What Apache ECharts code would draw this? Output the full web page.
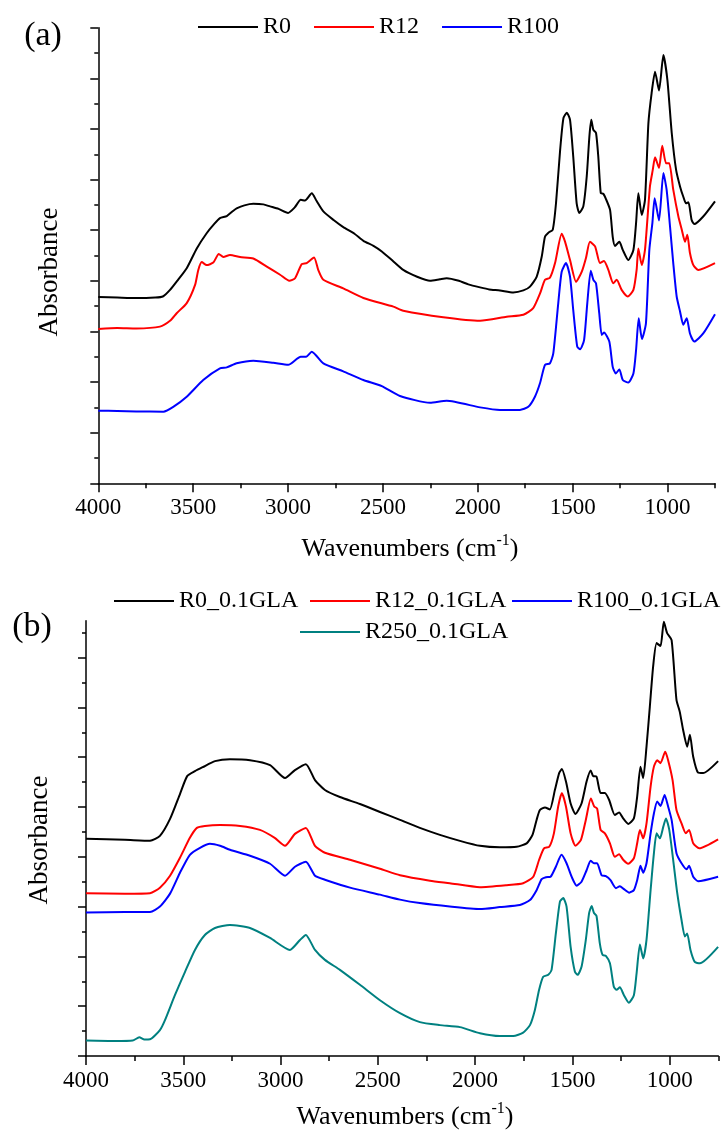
<!DOCTYPE html>
<html>
<head>
<meta charset="utf-8">
<script src="https://cdn.jsdelivr.net/npm/echarts@6/dist/echarts.min.js"></script>
<style>
html,body{margin:0;padding:0;background:#fff}
#chart{width:723px;height:1136px}
</style>
</head>
<body>
<div id="chart"></div>
<script>
// ---------- Panel (a): FTIR spectra, absorbance in arbitrary units (offset) ----------
const r0Wn = [4000,3900,3800,3700,3660,3622,3580,3534,3481,3429,3390,3359,3323,3290,3271,3230,3183,3130,3095,3050,3000,2965,2933,2911,2875,2850,2814,2760,2709,2650,2603,2550,2506,2450,2393,2320,2252,2200,2164,2100,2050,1988,1940,1883,1813,1760,1725,1690,1663,1646,1628,1605,1588,1566,1549,1531,1514,1497,1479,1465,1444,1426,1412,1402,1391,1377,1365,1352,1339,1324,1303,1289,1277,1254,1236,1207,1180,1166,1154,1136,1119,1101,1084,1066,1045,1022,1001,978,955,934,917,903,890,873,859,812,750];
const r0Abs = [3.68,3.67,3.66,3.67,3.69,3.82,4.02,4.25,4.64,4.94,5.12,5.24,5.28,5.38,5.43,5.49,5.52,5.51,5.47,5.42,5.34,5.45,5.60,5.585,5.73,5.58,5.37,5.20,5.06,4.93,4.79,4.69,4.58,4.40,4.215,4.08,4.00,4.03,4.05,4.00,3.93,3.87,3.83,3.81,3.77,3.81,3.885,4.08,4.48,4.87,4.95,5.01,5.53,6.59,7.21,7.32,7.18,6.45,5.53,5.34,5.47,6.06,6.85,7.18,6.98,6.92,6.45,5.73,5.72,5.61,5.40,4.87,4.69,4.77,4.61,4.41,4.61,5.14,5.73,5.30,5.60,7.11,7.71,8.13,7.76,8.46,7.97,6.92,6.19,5.86,5.66,5.53,5.55,5.20,5.12,5.27,5.57];

const r12Wn = [4000,3900,3800,3675,3622,3587,3534,3490,3473,3455,3429,3394,3365,3341,3306,3253,3183,3112,3042,2993,2963,2928,2902,2863,2841,2814,2709,2603,2445,2393,2182,1988,1848,1760,1708,1672,1646,1620,1593,1558,1540,1514,1482,1452,1430,1409,1382,1356,1335,1312,1286,1268,1242,1210,1180,1163,1154,1136,1119,1093,1078,1066,1045,1028,1008,991,970,943,925,908,896,882,864,838,750];
const r12Abs = [3.05,3.07,3.06,3.095,3.21,3.36,3.56,3.92,4.215,4.37,4.31,4.36,4.53,4.47,4.51,4.47,4.44,4.28,4.12,4.00,4.05,4.33,4.35,4.46,4.215,4.02,3.85,3.66,3.49,3.41,3.28,3.21,3.29,3.33,3.46,3.75,4.02,4.06,4.35,4.93,4.77,4.41,3.98,4.18,4.45,4.77,4.68,4.35,4.39,4.215,3.95,4.02,3.82,3.69,3.82,4.215,4.64,4.31,4.61,5.86,6.19,6.44,6.23,6.67,6.32,6.32,5.80,5.27,5.01,4.77,4.91,4.55,4.31,4.215,4.35];

const r100Wn = [4000,3900,3800,3657,3605,3534,3447,3359,3323,3271,3183,3078,2999,2933,2905,2875,2814,2709,2603,2506,2410,2252,2164,1988,1883,1778,1734,1699,1672,1646,1620,1602,1576,1558,1535,1514,1497,1476,1461,1440,1423,1405,1391,1377,1360,1347,1335,1307,1289,1273,1254,1236,1207,1180,1166,1152,1135,1114,1096,1080,1068,1045,1022,1005,987,970,952,934,917,899,882,859,812,750];
const r100Abs = [1.435,1.43,1.42,1.415,1.51,1.71,2.04,2.27,2.29,2.37,2.42,2.38,2.34,2.50,2.50,2.60,2.37,2.21,2.04,1.92,1.725,1.59,1.63,1.50,1.45,1.45,1.51,1.71,1.98,2.34,2.37,2.57,3.56,4.18,4.35,4.08,3.42,2.70,2.65,2.83,3.56,4.20,4.02,3.95,3.36,2.93,2.98,2.80,2.30,2.17,2.25,2.04,1.99,2.17,2.63,3.26,2.85,3.16,4.61,5.14,5.63,5.19,6.13,5.80,5.07,4.35,3.69,3.39,3.13,3.26,2.96,2.80,2.96,3.34];

// ---------- Panel (b): spectra with 0.1GLA ----------
const g0Wn = [4000,3800,3671,3620,3568,3517,3480,3440,3400,3337,3260,3157,3054,2977,2926,2870,2823,2772,2695,2592,2489,2386,2284,2181,2078,1975,1873,1787,1735,1705,1684,1667,1641,1616,1590,1568,1554,1533,1509,1484,1453,1427,1406,1393,1376,1355,1333,1311,1282,1260,1239,1213,1184,1167,1150,1136,1119,1102,1085,1067,1047,1030,1013,990,965,948,931,910,896,879,854,828,751];
const g0Abs = [4.36,4.34,4.32,4.42,4.76,5.26,5.62,5.72,5.80,5.92,5.96,5.94,5.84,5.58,5.74,5.86,5.54,5.34,5.20,5.06,4.90,4.74,4.58,4.44,4.32,4.22,4.19,4.20,4.27,4.44,4.74,4.94,4.99,4.95,5.34,5.68,5.76,5.51,5.07,4.86,5.07,5.51,5.73,5.62,5.61,5.28,5.28,5.14,4.84,4.89,4.77,4.66,4.77,5.21,5.81,5.58,6.21,7.01,7.82,8.29,8.23,8.72,8.49,8.35,7.15,6.91,6.55,6.21,6.45,6.01,5.69,5.68,5.92];

const g12Wn = [4000,3800,3671,3620,3568,3517,3466,3430,3389,3311,3208,3106,3030,2977,2926,2870,2823,2772,2643,2489,2386,2232,2130,1975,1838,1753,1701,1671,1646,1619,1595,1573,1554,1533,1509,1484,1456,1431,1405,1388,1373,1355,1333,1307,1282,1260,1239,1213,1184,1167,1153,1136,1119,1098,1081,1064,1047,1023,1008,985,965,939,917,900,879,848,751];
const g12Abs = [3.27,3.26,3.27,3.38,3.62,3.98,4.38,4.58,4.62,4.64,4.62,4.54,4.38,4.22,4.46,4.58,4.22,4.08,3.94,3.76,3.63,3.52,3.47,3.39,3.43,3.47,3.60,3.94,4.17,4.20,4.47,5.01,5.28,5.01,4.47,4.22,4.34,4.74,5.17,5.01,4.97,4.54,4.47,4.27,4.00,4.05,3.94,3.86,3.97,4.27,4.54,4.37,4.67,5.41,5.81,5.94,5.88,6.11,5.94,5.54,4.94,4.67,4.47,4.54,4.27,4.17,4.35];

const g100Wn = [4000,3800,3671,3620,3568,3517,3466,3414,3363,3311,3260,3157,3054,2977,2926,2870,2823,2772,2643,2489,2386,2284,2130,1975,1873,1770,1718,1684,1658,1636,1612,1585,1556,1530,1504,1478,1453,1427,1406,1389,1373,1350,1328,1304,1276,1256,1235,1208,1184,1167,1150,1136,1119,1098,1081,1064,1047,1026,1008,990,965,939,913,900,879,854,751];
const g100Abs = [2.88,2.89,2.89,3.00,3.26,3.68,4.04,4.18,4.26,4.22,4.14,4.02,3.86,3.62,3.80,3.90,3.62,3.54,3.38,3.24,3.14,3.07,3.00,2.95,2.99,3.03,3.13,3.33,3.55,3.59,3.60,3.80,4.04,3.87,3.60,3.42,3.50,3.73,3.92,3.87,3.87,3.63,3.61,3.53,3.37,3.41,3.35,3.28,3.33,3.53,3.82,3.68,3.87,4.47,4.87,5.11,5.02,5.24,5.01,4.74,4.07,3.87,3.75,3.82,3.60,3.51,3.60];

const g250Wn = [4000,3850,3760,3726,3700,3671,3620,3594,3543,3491,3440,3389,3337,3260,3157,3054,2952,2900,2870,2823,2772,2695,2592,2489,2386,2284,2181,2078,1975,1873,1804,1753,1718,1693,1671,1650,1624,1607,1585,1564,1547,1530,1509,1487,1473,1453,1431,1414,1401,1389,1376,1359,1345,1328,1307,1287,1273,1256,1235,1210,1184,1170,1153,1136,1119,1098,1081,1067,1050,1033,1019,1002,982,961,939,922,910,893,871,845,751];
const g250Abs = [0.31,0.30,0.31,0.375,0.33,0.335,0.52,0.72,1.22,1.69,2.13,2.43,2.57,2.63,2.57,2.37,2.13,2.33,2.43,2.13,1.93,1.73,1.43,1.12,0.86,0.68,0.62,0.58,0.456,0.40,0.40,0.47,0.62,0.92,1.33,1.59,1.63,1.73,2.46,3.10,3.17,3.00,2.19,1.69,1.63,1.79,2.33,2.87,3.01,2.87,2.81,2.26,2.03,2.01,1.86,1.39,1.33,1.38,1.22,1.07,1.22,1.66,2.24,1.96,2.33,3.33,4.07,4.47,4.37,4.60,4.77,4.54,3.94,3.27,2.73,2.40,2.46,2.13,1.89,1.86,2.19];

// ---------- Axis tick values ----------
const xMajorTicks = [1000,1500,2000,2500,3000,3500,4000];
const xMinorTicks = [750,1250,1750,2250,2750,3250,3750];
const yMajorTicksA = [0,1,2,3,4,5,6,7,8,9];
const yMinorTicksA = [0.5,1.5,2.5,3.5,4.5,5.5,6.5,7.5,8.5];
const yMajorTicksB = [0,1,2,3,4,5,6,7,8];
const yMinorTicksB = [0.5,1.5,2.5,3.5,4.5,5.5,6.5,7.5,8.5];

const SERIF = '"Liberation Serif","DejaVu Serif",serif';
const pairs = (wn, ab) => wn.map((w, i) => [w, ab[i]]);

function xAxes(gridIndex) {
  return [
    {
      type: 'value', gridIndex, position: 'bottom', inverse: true, min: 750, max: 4000,
      axisLine: { show: true, onZero: false, lineStyle: { color: '#000', width: 1.5 } },
      axisTick: { show: true, customValues: xMajorTicks, length: 9, lineStyle: { color: '#000', width: 1.5 } },
      axisLabel: { show: true, customValues: xMajorTicks, margin: 13, color: '#000', fontSize: 23, fontFamily: SERIF, formatter: v => String(v) },
      splitLine: { show: false }
    },
    {
      type: 'value', gridIndex, position: 'bottom', inverse: true, min: 750, max: 4000,
      axisLine: { show: false, onZero: false },
      axisTick: { show: true, customValues: xMinorTicks, length: 5, lineStyle: { color: '#000', width: 1.5 } },
      axisLabel: { show: false },
      splitLine: { show: false }
    }
  ];
}

function yAxes(gridIndex, max, major, minor) {
  return [
    {
      type: 'value', gridIndex, position: 'left', min: 0, max,
      axisLine: { show: true, onZero: false, lineStyle: { color: '#000', width: 1.5 } },
      axisTick: { show: true, customValues: major, length: 8, lineStyle: { color: '#000', width: 1.5 } },
      axisLabel: { show: false },
      splitLine: { show: false }
    },
    {
      type: 'value', gridIndex, position: 'left', min: 0, max,
      axisLine: { show: false, onZero: false },
      axisTick: { show: true, customValues: minor, length: 4, lineStyle: { color: '#000', width: 1.5 } },
      axisLabel: { show: false },
      splitLine: { show: false }
    }
  ];
}

function spectrum(name, wn, ab, color, axisIdx) {
  return {
    name, type: 'line', data: pairs(wn, ab),
    xAxisIndex: axisIdx, yAxisIndex: axisIdx,
    symbol: 'none', showSymbol: false,
    smooth: 0.2,
    lineStyle: { color, width: 2, join: 'round' }, itemStyle: { color },
    silent: true, animation: false
  };
}

const legendText = { color: '#000', fontSize: 24, fontFamily: SERIF, lineHeight: 28 };
function legendAt(names, left, top, gap) {
  return {
    data: names, left, top, padding: 0, itemGap: gap || 23,
    icon: 'rect', itemWidth: 60, itemHeight: 2, textStyle: legendText,
    selectedMode: false
  };
}

const xTitleRich = {
  t: { fontSize: 26, fontFamily: SERIF, fill: '#000', color: '#000', lineHeight: 32 },
  s: { fontSize: 16, fontFamily: SERIF, fill: '#000', color: '#000', verticalAlign: 'top', lineHeight: 32 }
};
function textEl(text, x, y, size, rotation) {
  return {
    type: 'text', x, y, rotation: rotation || 0, silent: true,
    style: { text, fill: '#000', fontSize: size, fontFamily: SERIF,
      align: 'center', verticalAlign: 'middle', textAlign: 'center', textVerticalAlign: 'middle' }
  };
}
function xTitle(x, y) {
  return {
    type: 'text', x, y, silent: true,
    style: { text: '{t|Wavenumbers (cm}{s|-1}{t|)}', rich: xTitleRich,
      align: 'center', verticalAlign: 'middle', textAlign: 'center', textVerticalAlign: 'middle' }
  };
}

const chart = echarts.init(document.getElementById('chart'), null, { renderer: 'canvas' });
chart.setOption({
  backgroundColor: '#fff',
  animation: false,
  grid: [
    { left: 98.3, right: 8, top: 27.7, height: 455.6 },
    { left: 86, right: 4.7, top: 620.7, height: 435.3 }
  ],
  xAxis: [...xAxes(0), ...xAxes(1)],
  yAxis: [...yAxes(0, 9, yMajorTicksA, yMinorTicksA), ...yAxes(1, 8.74, yMajorTicksB, yMinorTicksB)],
  legend: [
    legendAt(['R0', 'R12', 'R100'], 198, 13),
    legendAt(['R0_0.1GLA'], 114, 587),
    legendAt(['R12_0.1GLA'], 310, 587),
    legendAt(['R100_0.1GLA'], 512, 587),
    legendAt(['R250_0.1GLA'], 300, 618)
  ],
  series: [
    spectrum('R0', r0Wn, r0Abs, '#000000', 0),
    spectrum('R12', r12Wn, r12Abs, '#ff0000', 0),
    spectrum('R100', r100Wn, r100Abs, '#0000ff', 0),
    spectrum('R0_0.1GLA', g0Wn, g0Abs, '#000000', 2),
    spectrum('R12_0.1GLA', g12Wn, g12Abs, '#ff0000', 2),
    spectrum('R100_0.1GLA', g100Wn, g100Abs, '#0000ff', 2),
    spectrum('R250_0.1GLA', g250Wn, g250Abs, '#008080', 2)
  ],
  graphic: [
    textEl('(a)', 43, 36, 34),
    textEl('(b)', 32, 627, 34),
    textEl('Absorbance', 50, 272, 27, Math.PI / 2),
    textEl('Absorbance', 40, 840, 27, Math.PI / 2),
    xTitle(410, 549),
    xTitle(405, 1117)
  ]
});
</script>
</body>
</html>
